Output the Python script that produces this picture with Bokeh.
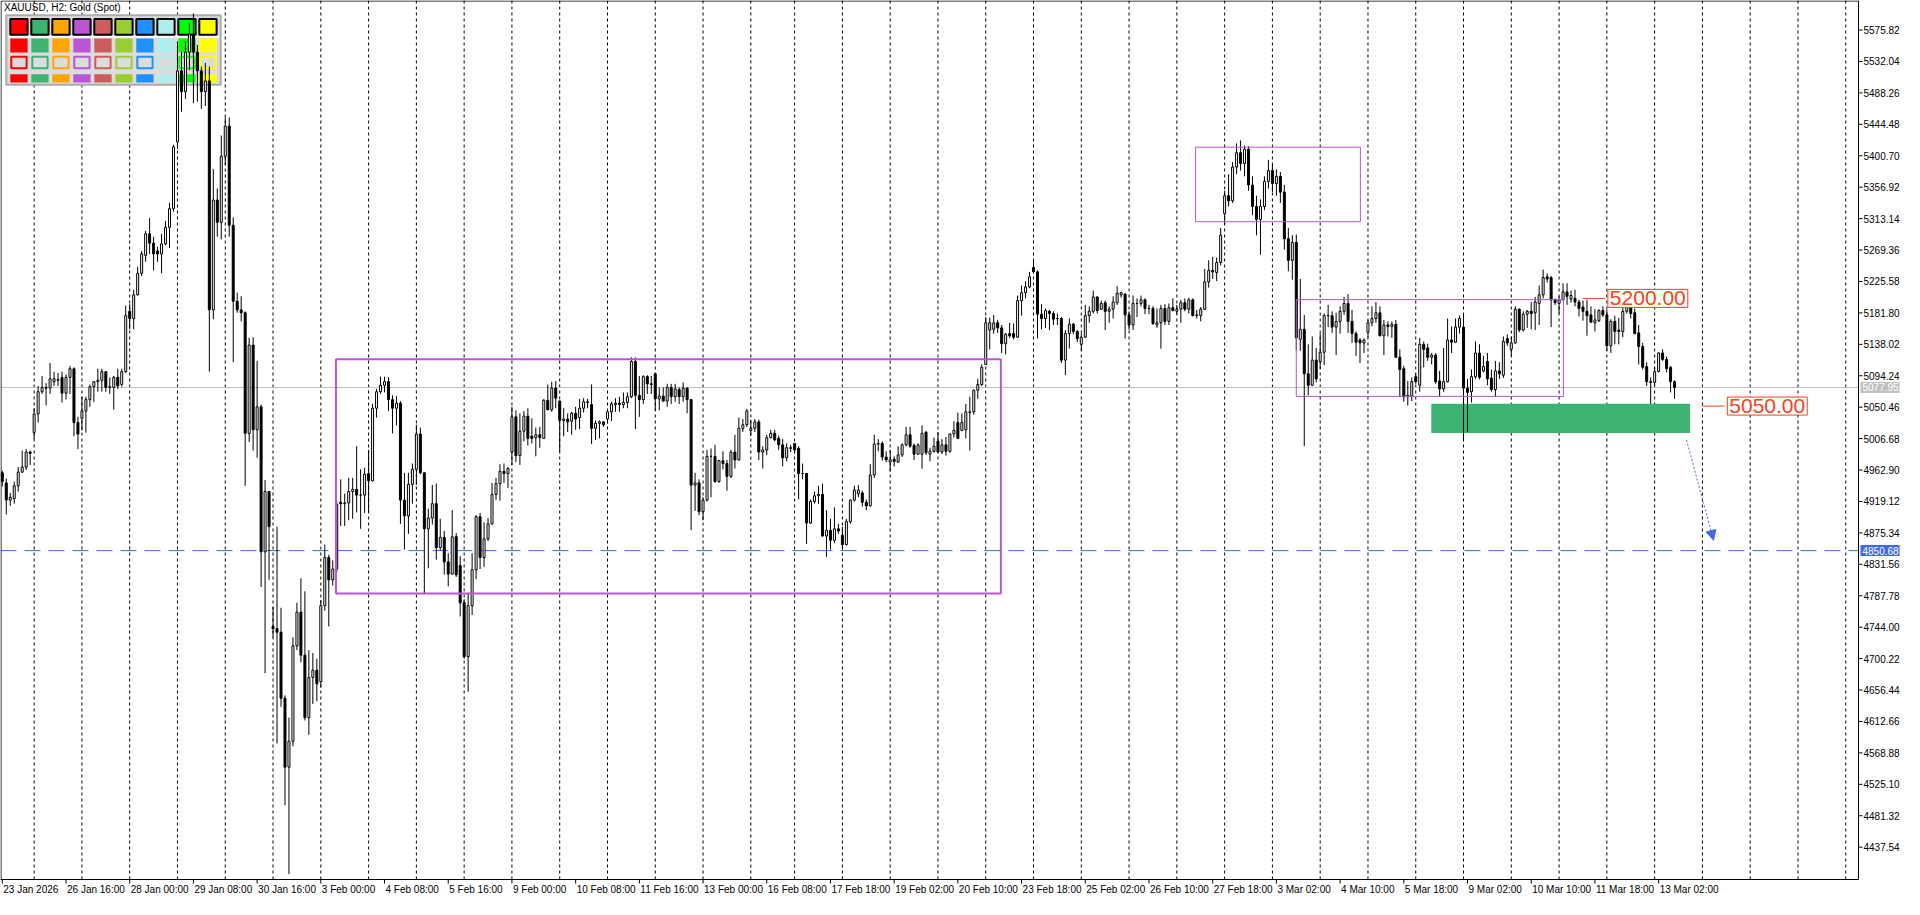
from bokeh.plotting import figure
from bokeh.models import Range1d, Label, Arrow, NormalHead, ColumnDataSource
from bokeh.core.properties import value
from bokeh.embed import file_html
from bokeh.resources import INLINE

# ---------------- data (XAUUSD H2, bar index 0 = 23 Jan 2026 08:00) ----------------
opens = [
    4959, 4945, 4921, 4923, 4941, 4960, 4967, 4988, 5015, 5041,  # 0
    5072, 5078, 5077, 5086, 5088, 5092, 5070, 5092, 5104, 5029,  # 10
    5035, 5045, 5061, 5079, 5086, 5088, 5100, 5078, 5078, 5092,  # 20
    5082, 5100, 5184, 5174, 5207, 5237, 5262, 5292, 5279, 5268,  # 30
    5264, 5278, 5301, 5327, 5420, 5519, 5490, 5545, 5570, 5545,  # 40
    5519, 5490, 5505, 5186, 5339, 5308, 5400, 5442, 5304, 5198,  # 50
    5186, 5182, 5014, 5137, 5019, 5051, 4849, 4933, 4745, 4742,  # 60
    4737, 4645, 4549, 4585, 4718, 4765, 4705, 4618, 4674, 4684,  # 70
    4668, 4774, 4841, 4810, 4825, 4918, 4916, 4917, 4933, 4936,  # 80
    4928, 4928, 4958, 4948, 5049, 5072, 5081, 5086, 5061, 5049,  # 90
    5056, 4921, 4899, 4943, 4964, 5013, 4959, 4881, 4896, 4916,  # 100
    4855, 4869, 4835, 4818, 4870, 4830, 4778, 4703, 4774, 4824,  # 110
    4898, 4841, 4867, 4888, 4929, 4944, 4961, 4958, 4988, 5037,  # 120
    4983, 5017, 5038, 5010, 5008, 5012, 5007, 5060, 5047, 5077,  # 130
    5059, 5032, 5034, 5031, 5042, 5036, 5049, 5058, 5054, 5021,  # 140
    5028, 5030, 5034, 5044, 5054, 5056, 5054, 5057, 5065, 5114,  # 150
    5067, 5061, 5093, 5083, 5097, 5062, 5066, 5059, 5078, 5065,  # 160
    5075, 5065, 5077, 5061, 4942, 4945, 4905, 4921, 4982, 4982,  # 170
    4947, 4976, 4972, 4954, 4988, 4977, 5021, 5026, 5018, 5021,  # 180
    5030, 4988, 4991, 5008, 5014, 5007, 4998, 4980, 4994, 5000,  # 190
    4993, 4958, 4958, 4889, 4919, 4927, 4929, 4871, 4879, 4865,  # 200
    4881, 4872, 4859, 4891, 4921, 4930, 4931, 4918, 4913, 4956,  # 210
    4999, 5000, 4981, 4974, 4978, 4974, 4984, 4998, 5012, 4997,  # 220
    4985, 4985, 5016, 4985, 4989, 5003, 4988, 4998, 4989, 5013,  # 230
    5029, 5018, 5019, 5043, 5044, 5074, 5082, 5110, 5158, 5159,  # 240
    5168, 5161, 5139, 5153, 5153, 5148, 5199, 5210, 5218, 5245,  # 250
    5239, 5180, 5174, 5184, 5181, 5174, 5174, 5116, 5153, 5166,  # 260
    5156, 5138, 5148, 5178, 5184, 5204, 5187, 5196, 5184, 5187,  # 270
    5196, 5207, 5208, 5179, 5165, 5195, 5195, 5200, 5188, 5188,  # 280
    5165, 5168, 5188, 5170, 5189, 5184, 5187, 5196, 5187, 5200,  # 290
    5178, 5178, 5187, 5225, 5241, 5238, 5252, 5320, 5345, 5338,  # 300
    5385, 5405, 5390, 5410, 5360, 5330, 5312, 5330, 5365, 5380,  # 310
    5362, 5372, 5350, 5285, 5255, 5280, 5145, 5159, 5097, 5081,  # 320
    5116, 5114, 5127, 5178, 5178, 5162, 5170, 5184, 5195, 5170,  # 330
    5153, 5144, 5140, 5155, 5168, 5174, 5182, 5150, 5165, 5163,  # 340
    5166, 5120, 5104, 5065, 5066, 5093, 5081, 5138, 5133, 5120,  # 350
    5123, 5087, 5076, 5086, 5144, 5141, 5162, 5162, 5077, 5072,  # 360
    5093, 5126, 5101, 5114, 5091, 5075, 5101, 5095, 5146, 5131,  # 370
    5140, 5187, 5158, 5180, 5184, 5182, 5195, 5207, 5232, 5231,  # 380
    5200, 5195, 5200, 5211, 5201, 5202, 5197, 5190, 5184, 5179,  # 390
    5168, 5171, 5185, 5179, 5136, 5170, 5158, 5156, 5184, 5190,  # 400
    5182, 5154, 5135, 5107, 5086, 5085, 5100, 5126, 5117, 5106,  # 410
    5086,                                                        # 420
]
highs = [
    4962, 4951, 4931, 4947, 4967, 4990, 4992, 4990, 5049, 5080,
    5094, 5084, 5112, 5100, 5098, 5100, 5096, 5108, 5106, 5037,
    5065, 5065, 5082, 5087, 5104, 5104, 5101, 5092, 5094, 5104,
    5104, 5192, 5194, 5214, 5246, 5268, 5296, 5314, 5288, 5274,
    5292, 5310, 5335, 5416, 5560, 5545, 5560, 5585, 5599, 5555,
    5525, 5530, 5525, 5382, 5355, 5429, 5454, 5454, 5315, 5210,
    5205, 5184, 5147, 5148, 5115, 5054, 4949, 4933, 4772, 4884,
    4771, 4649, 4618, 4730, 4778, 4812, 4794, 4712, 4708, 4700,
    4782, 4859, 4845, 4837, 4920, 4950, 4930, 4952, 4952, 4996,
    4964, 4966, 4991, 5055, 5076, 5093, 5093, 5092, 5067, 5066,
    5059, 4959, 4959, 4972, 5026, 5022, 4960, 4909, 4942, 4944,
    4895, 4878, 4847, 4907, 4875, 4843, 4783, 4792, 4847, 4900,
    4903, 4890, 4896, 4945, 4952, 4971, 4972, 4967, 5051, 5046,
    5042, 5045, 5049, 5035, 5022, 5023, 5062, 5082, 5086, 5087,
    5060, 5049, 5042, 5044, 5051, 5062, 5063, 5062, 5082, 5032,
    5032, 5031, 5046, 5058, 5063, 5065, 5071, 5071, 5120, 5120,
    5094, 5095, 5095, 5094, 5098, 5078, 5078, 5083, 5083, 5083,
    5078, 5085, 5078, 5062, 4959, 4950, 4925, 4991, 4993, 4998,
    4977, 4989, 4977, 4991, 5012, 5036, 5034, 5048, 5033, 5034,
    5033, 4996, 5012, 5019, 5019, 5011, 5006, 5000, 4998, 5000,
    4996, 4972, 4959, 4922, 4933, 4941, 4944, 4907, 4895, 4911,
    4888, 4884, 4895, 4922, 4941, 4942, 4934, 4922, 4971, 5012,
    5006, 5003, 4989, 4991, 4982, 4996, 5000, 5023, 5023, 5000,
    5000, 5025, 5016, 4994, 5008, 5016, 5006, 5009, 5014, 5031,
    5043, 5042, 5055, 5065, 5075, 5090, 5110, 5176, 5175, 5179,
    5172, 5165, 5154, 5168, 5167, 5206, 5220, 5226, 5239, 5255,
    5241, 5194, 5188, 5186, 5184, 5181, 5176, 5158, 5174, 5168,
    5158, 5153, 5193, 5191, 5213, 5205, 5199, 5199, 5191, 5205,
    5219, 5211, 5209, 5184, 5206, 5202, 5206, 5202, 5193, 5191,
    5188, 5193, 5194, 5195, 5202, 5193, 5200, 5202, 5203, 5202,
    5186, 5190, 5243, 5255, 5260, 5259, 5300, 5352, 5375, 5392,
    5418, 5422, 5415, 5414, 5372, 5345, 5340, 5372, 5395, 5388,
    5382, 5378, 5360, 5300, 5290, 5291, 5229, 5179, 5138, 5149,
    5133, 5153, 5181, 5193, 5184, 5182, 5191, 5204, 5208, 5186,
    5156, 5147, 5146, 5172, 5191, 5197, 5191, 5172, 5170, 5170,
    5172, 5131, 5108, 5087, 5092, 5097, 5147, 5142, 5139, 5126,
    5126, 5101, 5133, 5174, 5163, 5174, 5178, 5179, 5090, 5103,
    5142, 5138, 5122, 5126, 5103, 5115, 5113, 5149, 5152, 5149,
    5191, 5188, 5184, 5186, 5197, 5204, 5220, 5242, 5237, 5233,
    5202, 5205, 5223, 5223, 5213, 5214, 5200, 5199, 5200, 5191,
    5187, 5187, 5191, 5186, 5173, 5178, 5175, 5201, 5197, 5195,
    5188, 5165, 5140, 5113, 5092, 5106, 5127, 5131, 5121, 5108,
    5088,
]
lows = [
    4940, 4901, 4913, 4916, 4933, 4959, 4963, 4970, 5006, 5029,
    5069, 5053, 5069, 5080, 5080, 5057, 5061, 5069, 5010, 4992,
    5018, 5015, 5051, 5058, 5072, 5072, 5072, 5069, 5047, 5076,
    5079, 5098, 5159, 5159, 5206, 5233, 5253, 5264, 5241, 5253,
    5237, 5276, 5272, 5323, 5410, 5462, 5480, 5520, 5474, 5476,
    5466, 5470, 5100, 5173, 5288, 5284, 5388, 5288, 5113, 5182,
    5170, 4941, 5002, 4990, 4980, 4800, 4680, 4810, 4730, 4582,
    4633, 4496, 4400, 4578, 4712, 4695, 4614, 4594, 4637, 4641,
    4660, 4767, 4745, 4802, 4820, 4885, 4885, 4893, 4895, 4904,
    4881, 4903, 4904, 4947, 5036, 5069, 5071, 5045, 5014, 5025,
    4888, 4852, 4874, 4916, 4942, 4957, 4790, 4826, 4887, 4838,
    4851, 4817, 4801, 4817, 4814, 4759, 4700, 4654, 4761, 4811,
    4825, 4828, 4864, 4887, 4921, 4920, 4945, 4938, 4970, 4974,
    4970, 5003, 4997, 5000, 4982, 4994, 5006, 5046, 5044, 5049,
    4989, 5010, 5016, 5012, 5019, 5020, 5043, 5049, 4999, 5005,
    5007, 5023, 5028, 5031, 5044, 5044, 5049, 5049, 5063, 5020,
    5037, 5055, 5069, 5069, 5046, 5046, 5058, 5051, 5055, 5058,
    5055, 5058, 5042, 4879, 4906, 4900, 4893, 4919, 4925, 4945,
    4945, 4964, 4934, 4952, 4965, 4976, 5016, 5023, 5010, 5016,
    4977, 4965, 4984, 5007, 5003, 4991, 4968, 4975, 4988, 4987,
    4922, 4950, 4860, 4888, 4916, 4916, 4870, 4842, 4852, 4861,
    4874, 4852, 4858, 4888, 4919, 4925, 4912, 4907, 4912, 4952,
    4989, 4976, 4974, 4961, 4968, 4973, 4981, 4996, 4994, 4977,
    4984, 4965, 4984, 4975, 4987, 4987, 4985, 4983, 4987, 5008,
    5006, 5017, 5007, 4990, 5040, 5062, 5080, 5110, 5131, 5153,
    5154, 5126, 5124, 5147, 5145, 5147, 5178, 5202, 5216, 5236,
    5146, 5159, 5161, 5158, 5165, 5165, 5112, 5095, 5132, 5152,
    5141, 5129, 5147, 5168, 5181, 5181, 5186, 5158, 5168, 5174,
    5193, 5203, 5146, 5158, 5158, 5176, 5191, 5180, 5180, 5165,
    5161, 5132, 5165, 5165, 5184, 5180, 5168, 5184, 5181, 5177,
    5174, 5170, 5186, 5217, 5229, 5226, 5248, 5305, 5330, 5335,
    5375, 5380, 5372, 5352, 5318, 5290, 5263, 5325, 5355, 5350,
    5345, 5335, 5270, 5240, 5228, 5129, 5129, 4996, 5067, 5080,
    5085, 5104, 5109, 5162, 5154, 5123, 5153, 5179, 5154, 5140,
    5122, 5112, 5126, 5147, 5163, 5168, 5149, 5123, 5149, 5147,
    5120, 5065, 5058, 5053, 5059, 5083, 5072, 5106, 5115, 5110,
    5083, 5065, 5072, 5085, 5126, 5140, 5153, 5003, 5016, 5057,
    5090, 5089, 5099, 5081, 5072, 5065, 5090, 5091, 5136, 5122,
    5139, 5155, 5156, 5161, 5159, 5158, 5165, 5202, 5224, 5162,
    5193, 5181, 5199, 5193, 5196, 5191, 5177, 5171, 5150, 5168,
    5156, 5169, 5176, 5129, 5126, 5138, 5138, 5148, 5181, 5174,
    5152, 5110, 5103, 5080, 5055, 5081, 5099, 5115, 5099, 5071,
    5062,
]
closes = [
    4947, 4921, 4925, 4941, 4960, 4967, 4988, 4986, 5041, 5072,
    5078, 5077, 5090, 5090, 5089, 5070, 5092, 5104, 5029, 5013,
    5045, 5061, 5079, 5086, 5088, 5100, 5078, 5079, 5092, 5080,
    5100, 5178, 5174, 5207, 5237, 5264, 5292, 5279, 5264, 5264,
    5278, 5301, 5327, 5413, 5519, 5490, 5545, 5570, 5545, 5519,
    5490, 5505, 5186, 5339, 5308, 5400, 5442, 5304, 5198, 5186,
    5182, 5014, 5137, 5019, 5051, 4849, 4933, 4884, 4742, 4737,
    4645, 4549, 4585, 4718, 4765, 4705, 4618, 4674, 4684, 4665,
    4774, 4841, 4810, 4825, 4915, 4916, 4917, 4933, 4936, 4928,
    4928, 4957, 4948, 5049, 5072, 5081, 5086, 5061, 5049, 5056,
    4921, 4899, 4943, 4964, 5013, 4959, 4881, 4896, 4916, 4855,
    4869, 4835, 4818, 4870, 4817, 4778, 4703, 4774, 4824, 4898,
    4841, 4867, 4888, 4929, 4944, 4961, 4958, 4965, 5037, 4983,
    5017, 5038, 5007, 5007, 5012, 5008, 5060, 5047, 5077, 5063,
    5032, 5034, 5030, 5042, 5034, 5049, 5058, 5057, 5021, 5028,
    5030, 5026, 5044, 5055, 5056, 5054, 5057, 5065, 5114, 5067,
    5061, 5093, 5083, 5082, 5062, 5066, 5059, 5078, 5065, 5076,
    5065, 5077, 5061, 4942, 4945, 4905, 4921, 4982, 4982, 4947,
    4976, 4972, 4954, 4988, 4977, 5021, 5026, 5045, 5021, 5030,
    4988, 4991, 5008, 5014, 5005, 4998, 4980, 4994, 4993, 4991,
    4958, 4958, 4889, 4919, 4927, 4929, 4871, 4879, 4865, 4881,
    4878, 4859, 4891, 4921, 4935, 4935, 4918, 4913, 4956, 4999,
    5000, 4981, 4977, 4977, 4975, 4984, 4998, 5012, 4996, 4985,
    4998, 5014, 4987, 4989, 4996, 4988, 4998, 4989, 5013, 5018,
    5007, 5029, 5044, 5044, 5074, 5082, 5106, 5168, 5168, 5168,
    5161, 5139, 5152, 5150, 5148, 5199, 5210, 5218, 5232, 5239,
    5180, 5174, 5185, 5181, 5173, 5174, 5116, 5153, 5166, 5156,
    5146, 5148, 5178, 5184, 5204, 5185, 5195, 5184, 5187, 5197,
    5209, 5210, 5179, 5165, 5195, 5195, 5200, 5188, 5188, 5167,
    5168, 5188, 5170, 5189, 5185, 5187, 5196, 5187, 5200, 5178,
    5179, 5187, 5225, 5241, 5239, 5252, 5290, 5345, 5338, 5385,
    5405, 5390, 5410, 5360, 5330, 5312, 5330, 5365, 5380, 5362,
    5372, 5350, 5285, 5255, 5280, 5147, 5159, 5097, 5081, 5116,
    5090, 5127, 5178, 5178, 5162, 5170, 5184, 5195, 5170, 5153,
    5141, 5140, 5144, 5168, 5174, 5182, 5150, 5165, 5163, 5166,
    5120, 5103, 5065, 5067, 5086, 5086, 5138, 5131, 5120, 5123,
    5086, 5076, 5086, 5144, 5141, 5162, 5174, 5077, 5071, 5093,
    5126, 5092, 5107, 5090, 5075, 5101, 5097, 5142, 5140, 5140,
    5187, 5158, 5180, 5184, 5181, 5197, 5207, 5231, 5229, 5200,
    5196, 5200, 5211, 5205, 5206, 5197, 5188, 5184, 5178, 5169,
    5172, 5185, 5179, 5136, 5170, 5156, 5156, 5184, 5190, 5181,
    5153, 5135, 5106, 5086, 5085, 5100, 5126, 5117, 5104, 5086,
    5078,
]

# time-axis labels (every 16 bars) and daily grid (bar index of each 00:00)
x_label_bars = list(range(0, 417, 16))
x_tick_labels = ["23 Jan 2026", "26 Jan 16:00", "28 Jan 00:00", "29 Jan 08:00", "30 Jan 16:00",
                 "3 Feb 00:00", "4 Feb 08:00", "5 Feb 16:00", "9 Feb 00:00", "10 Feb 08:00",
                 "11 Feb 16:00", "13 Feb 00:00", "16 Feb 08:00", "17 Feb 18:00", "19 Feb 02:00",
                 "20 Feb 10:00", "23 Feb 18:00", "25 Feb 02:00", "26 Feb 10:00", "27 Feb 18:00",
                 "3 Mar 02:00", "4 Mar 10:00", "5 Mar 18:00", "9 Mar 02:00", "10 Mar 10:00",
                 "11 Mar 18:00", "13 Mar 02:00"]
day_start_bars = list(range(8, 189, 12)) + list(range(199, 467, 12))

y_ticks = [4437.54, 4481.32, 4525.10, 4568.88, 4612.66, 4656.44, 4700.22, 4744.00, 4787.78,
           4831.56, 4875.34, 4919.12, 4962.90, 5006.68, 5050.46, 5094.24, 5138.02, 5181.80,
           5225.58, 5269.36, 5313.14, 5356.92, 5400.70, 5444.48, 5488.26, 5532.04, 5575.82]

bid_price = 5077.95
target_price = 4850.68

# drawn objects: (bar_left, bar_right, price_low, price_high)
range_box = (83.8, 250.8, 4791.0, 5117.2)
top_box = (299.7, 341.1, 5308.8, 5412.7)
mid_box = (325.0, 392.1, 5065.5, 5200.3)
support_zone = (358.9, 423.9, 5014.4, 5055.3)
level_labels = [("5200.00", 396.9, 402.5, 5202.0), ("5050.00", 426.9, 432.5, 5052.0)]
arrow_pts = (423.0, 5005.0, 429.8, 4865.0)

palette_colors = ["#FF0000", "#3CB371", "#FFA500", "#BA55D3", "#CD5C5C",
                  "#9ACD32", "#1E90FF", "#AFEEEE", "#00FF00", "#FFFF00"]

# ---------------- scales ----------------
CW, CH = 1858, 879          # chart area in pixels
AXW, AXH = 44, 18           # price-axis strip (right) and time-axis strip (bottom)
X0, X1 = -0.45, 466.2       # visible bars
Y0, Y1 = 4392.5, 5617.0     # visible prices
BPX = CW / (X1 - X0)        # pixels per bar
PPX = CH / (Y1 - Y0)        # pixels per dollar
XR = X1 + AXW / BPX
YB = Y0 - AXH / PPX

p = figure(frame_width=CW + AXW, frame_height=CH + AXH,
           x_range=Range1d(X0, XR), y_range=Range1d(YB, Y1),
           x_axis_location=None, y_axis_location=None,
           tools="", toolbar_location=None, output_backend="svg",
           min_border_left=0, min_border_top=0, min_border_right=0, min_border_bottom=0,
           background_fill_color="white", border_fill_color="white")
p.outline_line_color = None
p.grid.visible = False


def dx(px):   # pixel distance -> bars
    return px / BPX


def dy(px):   # pixel distance -> dollars
    return px / PPX


def cx(px):   # pixel offset from chart left -> bar coordinate
    return X0 + dx(px)


def cy(px):   # pixel offset from chart top -> price coordinate
    return Y1 - dy(px)


FONT = value("Liberation Sans")

# daily grid
g = [b for b in day_start_bars if b < X1]
p.segment(x0=g, x1=g, y0=[Y0] * len(g), y1=[Y1] * len(g),
          line_color="black", line_width=1, line_dash="3 3")

# horizontal price lines
p.segment(x0=[X0], x1=[X1], y0=[bid_price], y1=[bid_price], line_color="#C0C0C0", line_width=1)
p.segment(x0=[X0], x1=[X1], y0=[target_price], y1=[target_price],
          line_color="#4169E1", line_width=1, line_dash="16 8")

# support zone (background object)
p.quad(left=[support_zone[0]], right=[support_zone[1]], bottom=[support_zone[2]], top=[support_zone[3]],
       fill_color="#3CB371", line_color=None)

# colour palette panel (top-left)
p.quad(left=[cx(5.8)], right=[cx(220.2)], top=[cy(14.7)], bottom=[cy(84.3)],
       fill_color="#DCDCDC", line_color="#ABABAB", line_width=2)
p.segment(x0=[cx(7.5)], x1=[cx(218.5)], y0=[cy(36.3)], y1=[cy(36.3)], line_color="white", line_width=2)
n_pal = len(palette_colors)
lefts = [cx(9.8 + 21 * i) for i in range(n_pal)]
rights = [cx(27.1 + 21 * i) for i in range(n_pal)]
p.quad(left=lefts, right=rights, top=[cy(18.5)] * n_pal, bottom=[cy(34.2)] * n_pal,
       fill_color=palette_colors, line_color="black", line_width=2)
p.quad(left=lefts, right=rights, top=[cy(38)] * n_pal, bottom=[cy(52)] * n_pal,
       fill_color=palette_colors, line_color=None)
p.quad(left=[cx(10.8 + 21 * i) for i in range(n_pal)], right=[cx(26.1 + 21 * i) for i in range(n_pal)],
       top=[cy(56.3)] * n_pal, bottom=[cy(67.7)] * n_pal,
       fill_color="#DCDCDC", line_color=palette_colors, line_width=2)
p.quad(left=lefts, right=rights, top=[cy(73.7)] * n_pal, bottom=[cy(82)] * n_pal,
       fill_color=palette_colors, line_color=None)

# candles
n = min(len(opens), len(highs), len(lows), len(closes))
o, h, l, c = opens[:n], highs[:n], lows[:n], closes[:n]
src = ColumnDataSource(dict(
    x=list(range(n)),
    hi=[max(a, b, d) for a, b, d in zip(h, o, c)],
    lo=[min(a, b, d) for a, b, d in zip(l, o, c)],
    top=[max(a, b) for a, b in zip(o, c)],
    bottom=[min(a, b) for a, b in zip(o, c)],
    fill=["white" if cc >= oo else "black" for oo, cc in zip(o, c)],
))
p.segment(x0="x", y0="lo", x1="x", y1="hi", source=src, line_color="black", line_width=1)
p.vbar(x="x", top="top", bottom="bottom", width=0.5, source=src,
       fill_color="fill", line_color="black", line_width=1)

# drawn rectangles
p.quad(left=[range_box[0]], right=[range_box[1]], bottom=[range_box[2]], top=[range_box[3]],
       fill_color=None, line_color="#BA55D3", line_width=2)
for b in (top_box, mid_box):
    p.quad(left=[b[0]], right=[b[1]], bottom=[b[2]], top=[b[3]],
           fill_color=None, line_color="#BA55D3", line_width=1)

# price level labels
RED = "#EE4422"
for txt, xa, xb, yv in level_labels:
    p.segment(x0=[xa], x1=[xb], y0=[yv], y1=[yv], line_color=RED, line_width=1)
    p.add_layout(Label(x=xb + dx(3), y=yv, text=txt, text_align="left", text_baseline="middle",
                       text_font="Liberation Sans", text_font_size="21px", text_color=RED,
                       background_fill_color="white", border_line_color=RED, border_line_width=1,
                       padding=2))

# projection arrow
p.add_layout(Arrow(end=NormalHead(size=10, fill_color="#4169E1", line_color="#4169E1", line_width=1),
                   x_start=arrow_pts[0], y_start=arrow_pts[1], x_end=arrow_pts[2], y_end=arrow_pts[3],
                   line_color="#4169E1", line_width=1, line_dash="2 2"))

# chart frame: top/left border, price axis line, time axis line
p.segment(x0=[cx(0.5), cx(0.5), X1, X0], x1=[X1, cx(0.5), X1, X1],
          y0=[cy(0.5), cy(0.5), Y1, Y0], y1=[cy(0.5), Y0, Y0, Y0],
          line_color="black", line_width=1)

# price axis: ticks and labels
nt = len(y_ticks)
p.segment(x0=[X1] * nt, x1=[X1 + dx(4)] * nt, y0=y_ticks, y1=y_ticks, line_color="black", line_width=1)
p.text(x=[X1 + dx(5)] * nt, y=y_ticks, text=["%.2f" % v for v in y_ticks],
       text_align="left", text_baseline="middle", text_font=FONT, text_font_size="10px",
       text_color="black")

# price tags on the axis (bid and target)
for pv, col in ((bid_price, "#C0C0C0"), (target_price, "#4169E1")):
    p.quad(left=[X1 + dx(2)], right=[X1 + dx(41)], bottom=[pv - dy(5.5)], top=[pv + dy(5.5)],
           fill_color=col, line_color=None)
    p.text(x=[X1 + dx(4)], y=[pv], text=["%.2f" % pv], text_align="left", text_baseline="middle",
           text_font=FONT, text_font_size="10px", text_color="white")

# time axis: ticks and labels
nx = len(x_label_bars)
p.segment(x0=x_label_bars, x1=x_label_bars, y0=[Y0] * nx, y1=[Y0 - dy(4)] * nx,
          line_color="black", line_width=1)
p.text(x=[b + dx(1) for b in x_label_bars], y=[Y0 - dy(4)] * nx, text=x_tick_labels,
       text_align="left", text_baseline="top", text_font=FONT, text_font_size="10px",
       text_color="black")

# chart caption
p.text(x=[cx(3.5)], y=[cy(1.5)], text=["XAUUSD, H2:  Gold (Spot)"], text_align="left",
       text_baseline="top", text_font=FONT, text_font_size="10px", text_color="black")

open("out.html", "w").write(file_html(p, INLINE))
